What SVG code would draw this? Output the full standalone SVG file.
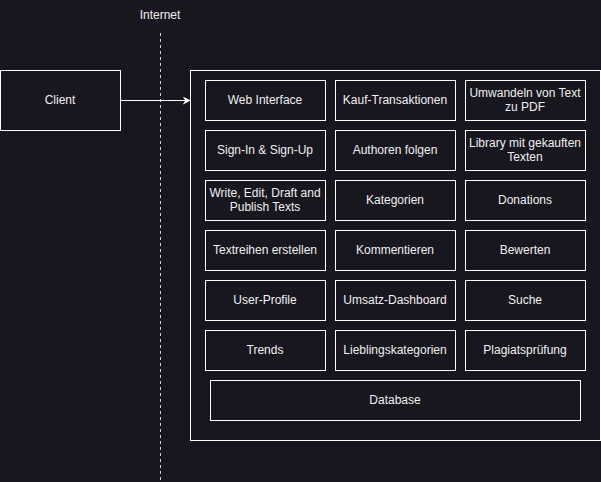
<svg xmlns="http://www.w3.org/2000/svg" width="601" height="482" viewBox="0 0 601 482">
<defs>
<style>
.box{fill:#18161f;stroke:#ffffff;stroke-width:1}
.t{font-family:"Liberation Sans",Arial,sans-serif;font-size:12px;fill:#f0f0f0;text-anchor:middle}
.edge{fill:none;stroke:#ffffff;stroke-width:1}
</style>
<marker id="arr" viewBox="0 0 10 10" refX="9" refY="5" markerWidth="8" markerHeight="8" markerUnits="userSpaceOnUse" orient="auto">
<path d="M0,0 L10,5 L0,10 L3,5 Z" fill="#ffffff"/>
</marker>
</defs>
<rect width="601" height="482" fill="#18161f"/>
<g id="internet">
<text class="t" x="160" y="19">Internet</text>
<line x1="160.5" y1="33" x2="160.5" y2="482" stroke="#d0d0d0" stroke-width="1" stroke-dasharray="3 3"/>
</g>
<g id="client"><rect class="box" x="0.5" y="70.5" width="120" height="60"/><text class="t" x="60" y="104">Client</text></g>
<g id="server"><rect class="box" x="190.5" y="70.5" width="410" height="370"/></g>
<g id="n1"><rect class="box" x="205.5" y="80.5" width="120" height="40"/><text class="t" x="265" y="104">Web Interface</text></g>
<g id="n2"><rect class="box" x="335.5" y="80.5" width="120" height="40"/><text class="t" x="395" y="104">Kauf-Transaktionen</text></g>
<g id="n3"><rect class="box" x="465.5" y="80.5" width="120" height="40"/><text class="t" x="525" y="97">Umwandeln von Text</text><text class="t" x="525" y="111">zu PDF</text></g>
<g id="n4"><rect class="box" x="205.5" y="130.5" width="120" height="40"/><text class="t" x="265" y="154">Sign-In &amp; Sign-Up</text></g>
<g id="n5"><rect class="box" x="335.5" y="130.5" width="120" height="40"/><text class="t" x="395" y="154">Authoren folgen</text></g>
<g id="n6"><rect class="box" x="465.5" y="130.5" width="120" height="40"/><text class="t" x="525" y="147">Library mit gekauften</text><text class="t" x="525" y="161">Texten</text></g>
<g id="n7"><rect class="box" x="205.5" y="180.5" width="120" height="40"/><text class="t" x="265" y="197">Write, Edit, Draft and</text><text class="t" x="265" y="211">Publish Texts</text></g>
<g id="n8"><rect class="box" x="335.5" y="180.5" width="120" height="40"/><text class="t" x="395" y="204">Kategorien</text></g>
<g id="n9"><rect class="box" x="465.5" y="180.5" width="120" height="40"/><text class="t" x="525" y="204">Donations</text></g>
<g id="n10"><rect class="box" x="205.5" y="230.5" width="120" height="40"/><text class="t" x="265" y="254">Textreihen erstellen</text></g>
<g id="n11"><rect class="box" x="335.5" y="230.5" width="120" height="40"/><text class="t" x="395" y="254">Kommentieren</text></g>
<g id="n12"><rect class="box" x="465.5" y="230.5" width="120" height="40"/><text class="t" x="525" y="254">Bewerten</text></g>
<g id="n13"><rect class="box" x="205.5" y="280.5" width="120" height="40"/><text class="t" x="265" y="304">User-Profile</text></g>
<g id="n14"><rect class="box" x="335.5" y="280.5" width="120" height="40"/><text class="t" x="395" y="304">Umsatz-Dashboard</text></g>
<g id="n15"><rect class="box" x="465.5" y="280.5" width="120" height="40"/><text class="t" x="525" y="304">Suche</text></g>
<g id="n16"><rect class="box" x="205.5" y="330.5" width="120" height="40"/><text class="t" x="265" y="354">Trends</text></g>
<g id="n17"><rect class="box" x="335.5" y="330.5" width="120" height="40"/><text class="t" x="395" y="354">Lieblingskategorien</text></g>
<g id="n18"><rect class="box" x="465.5" y="330.5" width="120" height="40"/><text class="t" x="525" y="354">Plagiatsprüfung</text></g>
<g id="db"><rect class="box" x="210.5" y="380.5" width="370" height="40"/><text class="t" x="395" y="404">Database</text></g>
<g id="connectors">
<line class="edge" x1="120.5" y1="100.5" x2="190" y2="100.5" marker-end="url(#arr)"/>
</g>
</svg>
